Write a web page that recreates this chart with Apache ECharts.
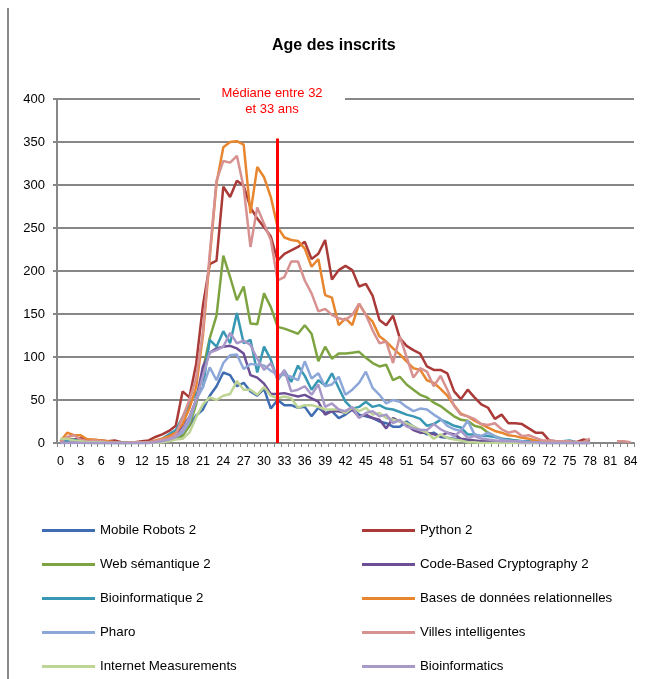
<!DOCTYPE html>
<html>
<head>
<meta charset="utf-8">
<script src="https://cdn.jsdelivr.net/npm/echarts@6/dist/echarts.min.js"></script>
<style>
  html, body { margin: 0; padding: 0; background: #fff; }
  #container { width: 654px; height: 679px; }
</style>
</head>
<body>
<div id="container"></div>
<script>
var dom = document.getElementById("container");
var myChart = echarts.init(dom);

// ages 0..84
var ages = ["0","1","2","3","4","5","6","7","8","9","10","11","12","13","14","15","16","17","18","19","20","21","22","23","24","25","26","27","28","29","30","31","32","33","34","35","36","37","38","39","40","41","42","43","44","45","46","47","48","49","50","51","52","53","54","55","56","57","58","59","60","61","62","63","64","65","66","67","68","69","70","71","72","73","74","75","76","77","78","79","80","81","82","83","84"];

var mobileRobots = [0,3,1,2,1,0,1,0,0,0, 0,1,1,1,2,3,4,6,10,20, 32,39,55,66,82,79,66,70,60,55, 63,40,50,44,44,41,42,31,41,35, 37,29,33,39,33,31,29,25,23,19, 19,25,19,15,10,12,7,6,5,4, 3,2,2,1,1,1,0,1,0,0, 0,0,0,0,0,0,0,0,0, null,null,null,null,null,null];
var python = [2,5,4,6,4,3,3,2,3,1, 1,1,2,3,7,10,14,20,60,53, 92,160,208,212,298,286,305,299,274,261, 251,240,212,220,224,228,234,214,220,236, 190,201,206,201,182,185,171,143,137,148, 122,113,108,104,89,85,85,81,60,51, 62,53,45,41,28,33,23,23,22,17, 12,12,3,2,2,2,1,4,3, null,null,null,null,null,null];
var webSemantique = [1,3,2,1,1,0,0,0,0,0, 0,0,0,0,1,2,3,5,8,20, 45,85,122,148,218,193,166,182,139,138, 174,158,135,133,130,127,137,127,95,112, 98,104,104,105,106,99,93,89,91,73, 77,68,62,56,53,47,43,37,31,27, 26,20,18,12,8,5,4,3,2,1, 1,0,0,0,0,0,0,0,0, null,null,null,null,null,null];
var codeBased = [0,1,0,1,0,0,0,0,0,0, 0,0,0,1,2,3,5,10,20,30, 50,89,105,110,112,113,110,104,79,76, 69,57,57,58,56,54,56,52,48,33, 37,37,35,39,30,33,29,27,17,29, 25,21,15,12,12,10,8,12,10,5, 4,3,2,2,1,1,1,0,0,0, 0,0,0,0,0,0,0,0,0, null,null,null,null,null,null];
var bioinformatique = [0,3,4,2,1,0,0,0,0,0, 0,0,1,1,2,5,10,15,30,45, 58,65,120,112,130,116,151,116,120,82, 112,97,73,84,71,90,78,62,73,67, 81,64,48,40,42,48,42,44,40,39, 36,33,31,28,20,22,27,24,20,18, 10,10,8,8,7,5,4,3,2,2, 1,1,1,1,2,3,1,0,0, null,null,null,null,null,null];
var basesDonnees = [2,12,9,9,4,4,3,2,1,0, 1,1,1,1,3,5,8,12,22,40, 65,125,215,302,344,350,351,347,267,321, 309,286,251,239,236,235,226,205,214,172, 169,137,145,137,162,149,141,124,118,110, 103,95,87,85,73,70,63,55,44,34, 31,26,22,18,14,12,9,8,6,5, 3,2,2,1,1,0,0,0,0, null,null,null,null,null,null];
var pharo = [0,0,1,0,0,0,0,0,0,0, 0,0,0,0,1,2,4,7,12,25, 50,65,88,73,93,102,103,86,92,91, 90,84,79,79,77,73,95,75,81,66, 68,77,56,62,70,83,64,56,46,50, 48,42,37,40,39,33,28,20,16,14, 26,10,8,12,8,4,3,2,2,1, 1,0,0,0,0,0,0,0,0, null,null,null,null,null,null];
var villes = [1,7,9,4,2,3,2,1,1,0, 0,1,1,1,2,4,5,10,30,50, 75,130,220,305,328,326,334,297,228,274, 255,236,189,193,211,211,189,174,153,156, 149,145,143,149,162,149,131,116,118,93, 124,100,76,87,83,66,78,62,43,33, 31,28,22,21,23,16,12,14,8,9, 6,3,3,2,2,2,1,1,5, null,null,null,2,2,1];
var internetMeas = [5,5,3,2,1,1,1,0,0,0, 0,0,0,0,0,1,2,4,5,12, 30,45,53,50,55,57,72,62,62,56, 65,55,52,54,52,41,44,44,42,39, 39,39,35,41,37,41,33,35,29,27, 25,23,19,15,12,5,10,6,4,3, 1,1,0,0,0,0,0,0,0,0, 0,0,0,0,0,0,0,0,0, null,null,null,null,null,null];
var bioinformatics = [0,0,1,0,0,0,0,0,0,0, 0,0,0,0,1,2,4,7,15,30, 50,78,105,108,112,128,116,119,114,98, 85,93,74,85,60,62,66,56,68,42, 46,39,37,42,29,35,37,31,33,23, 27,19,17,15,15,22,16,12,8,14, 6,8,5,4,3,2,2,2,1,1, 1,0,0,0,0,0,0,0,0, null,null,null,null,null,null];

var seriesNames = ["Mobile Robots 2", "Python 2", "Web sémantique 2", "Code-Based Cryptography 2", "Bioinformatique 2",
  "Bases de données relationnelles", "Pharo", "Villes intelligentes", "Internet Measurements", "Bioinformatics"];
var seriesData = [mobileRobots, python, webSemantique, codeBased, bioinformatique, basesDonnees, pharo, villes, internetMeas, bioinformatics];
var seriesColors = ["#3F6DB2", "#AA3A38", "#7EA442", "#6C4F95", "#3898B3", "#E8862F", "#8DA8D8", "#D69190", "#BDD494", "#A999C9"];

// median between 32 and 33
var medianAge = 32;
var medianTop = 354;

var fontFam = "Liberation Sans, Arial, sans-serif";
var gridGray = "#878787";

var series = [];
for (var i = 0; i < seriesNames.length; i++) {
  series.push({
    name: seriesNames[i],
    type: "line",
    data: seriesData[i],
    symbol: "none",
    connectNulls: false,
    lineStyle: { width: 2.5, color: seriesColors[i] },
    itemStyle: { color: seriesColors[i] },
    emphasis: { disabled: true },
  });
}
// red vertical median marker
series[0].markLine = {
  silent: true,
  symbol: "none",
  label: { show: false },
  lineStyle: { color: "#FF0000", width: 3, type: "solid" },
  data: [[{ coord: [medianAge, 0] }, { coord: [medianAge, medianTop] }]],
};

var legendText = { fontSize: 13.3, color: "#000", fontFamily: fontFam };

var option = {
  animation: false,
  textStyle: { fontFamily: fontFam },
  title: {
    text: "Age des inscrits",
    left: 267,
    top: 33,
    textStyle: { fontSize: 16, fontWeight: "bold", color: "#000", fontFamily: fontFam },
  },
  grid: { left: 57, right: 20, top: 99, bottom: 236 },
  xAxis: {
    type: "category",
    data: ages,
    boundaryGap: true,
    axisLine: { lineStyle: { color: gridGray, width: 2 } },
    axisTick: { show: true, interval: 0, length: 4, lineStyle: { color: gridGray, width: 1 } },
    axisLabel: { interval: 2, fontSize: 12.5, color: "#000", margin: 12, fontFamily: fontFam },
  },
  yAxis: {
    type: "value",
    min: 0,
    max: 400,
    interval: 50,
    axisLine: { show: true, lineStyle: { color: gridGray, width: 2 } },
    axisTick: { show: true, length: 4, lineStyle: { color: gridGray, width: 2 } },
    axisLabel: { fontSize: 13, color: "#000", margin: 12, fontFamily: fontFam },
    splitLine: { lineStyle: { color: gridGray, width: 2 } },
  },
  legend: [
    {
      data: [seriesNames[0], seriesNames[2], seriesNames[4], seriesNames[6], seriesNames[8]],
      orient: "vertical",
      left: 42,
      top: 524,
      padding: 0,
      icon: "rect",
      itemWidth: 53,
      itemHeight: 3,
      itemGap: 21,
      selectedMode: false,
      textStyle: legendText,
    },
    {
      data: [seriesNames[1], seriesNames[3], seriesNames[5], seriesNames[7], seriesNames[9]],
      orient: "vertical",
      left: 362,
      top: 524,
      padding: 0,
      icon: "rect",
      itemWidth: 53,
      itemHeight: 3,
      itemGap: 21,
      selectedMode: false,
      textStyle: legendText,
    },
  ],
  graphic: [
    // chart frame left edge
    { type: "line", shape: { x1: 8, y1: 8, x2: 8, y2: 679 }, style: { stroke: "#8a8a8a", lineWidth: 2 }, z: 10 },
    // white box behind annotation, breaking the 400 gridline
    { type: "rect", shape: { x: 200, y: 86, width: 145, height: 30 }, style: { fill: "#fff" }, z: 10 },
    {
      type: "text",
      x: 272,
      y: 85,
      z: 11,
      style: {
        text: "Médiane entre 32\net 33 ans",
        fill: "#FF0000",
        font: "13px " + fontFam,
        textAlign: "center",
        lineHeight: 16,
      },
    },
  ],
  series: series,
};

myChart.setOption(option);
</script>
</body>
</html>
